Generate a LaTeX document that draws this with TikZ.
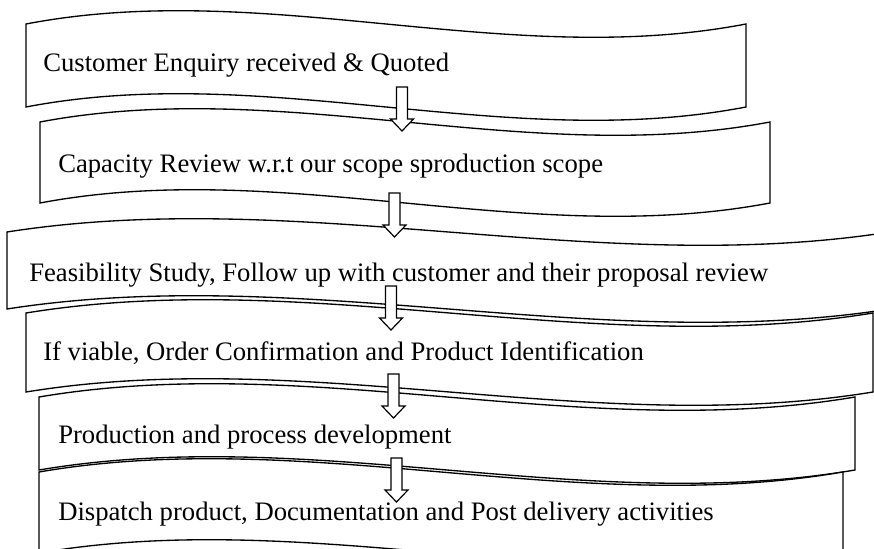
\documentclass[tikz,border=0pt]{standalone}
\usepackage{fontspec}
\setmainfont{Liberation Serif}
\usetikzlibrary{calc}
\tikzset{
  wave/.style={draw=black, fill=white, line width=1pt, line join=miter},
  steptext/.style={anchor=base west, inner sep=0pt, font=\fontsize{20}{24}\selectfont},
  blockarrow/.style={draw=black, fill=white, line width=0.9pt, line join=miter},
}
% name, xl, xr, yt, yb
\newcommand\wavebox[5]{%
  \path[wave] (#2,#4) .. controls ({#2+(#3-#2)/3},{#4-46}) and ({#2+2*(#3-#2)/3},{#4+46}) .. (#3,#4)
    -- (#3,#5) .. controls ({#2+2*(#3-#2)/3},{#5+46}) and ({#2+(#3-#2)/3},{#5-46}) .. (#2,#5) -- cycle;
  \coordinate (#1) at ({(#2+#3)/2},{(#4+#5)/2});
}
% name, x, ytop
\newcommand\blockarr[3]{%
  \coordinate (#1s) at (#2,#3);
  \coordinate (#1e) at (#2,#3+44);
  \draw[blockarrow] ($(#1s)+(-5.5,0)$) -- ($(#1s)+(5.5,0)$) -- ($(#1e)+(5.5,-12)$) -- ($(#1e)+(11.5,-12)$)
    -- (#1e) -- ($(#1e)+(-11.5,-12)$) -- ($(#1e)+(-5.5,-12)$) -- cycle;
}
\begin{document}
\begin{tikzpicture}[x=0.75pt,y=-0.75pt]
\useasboundingbox (0,0) rectangle (874,549);
\fill[white] (0,0) rectangle (874,549);
\clip (0,0) rectangle (874,549);
\wavebox{b1}{26}{746}{24}{107}
\wavebox{b2}{40}{770}{122}{203}
\wavebox{b3}{7}{890}{232}{309}
\wavebox{b4}{26}{873}{313}{392}
\wavebox{b5}{39}{855}{397}{470}
\wavebox{b6}{39}{843}{472}{553}
\node[steptext] (t1) at (43,72) {Customer Enquiry received \& Quoted};
\node[steptext] (t2) at (58,173) {Capacity Review w.r.t our scope sproduction scope};
\node[steptext] (t3) at (29,281) {Feasibility Study, Follow up with customer and their proposal review};
\node[steptext] (t4) at (43,360) {If viable, Order Confirmation and Product Identification};
\node[steptext] (t5) at (58,443) {Production and process development};
\node[steptext] (t6) at (58,520) {Dispatch product, Documentation and Post delivery activities};
\blockarr{a1}{402}{87}
\blockarr{a2}{394.5}{193}
\blockarr{a3}{391}{286}
\blockarr{a4}{393.5}{374}
\blockarr{a5}{396.5}{458}
\end{tikzpicture}
\end{document}
